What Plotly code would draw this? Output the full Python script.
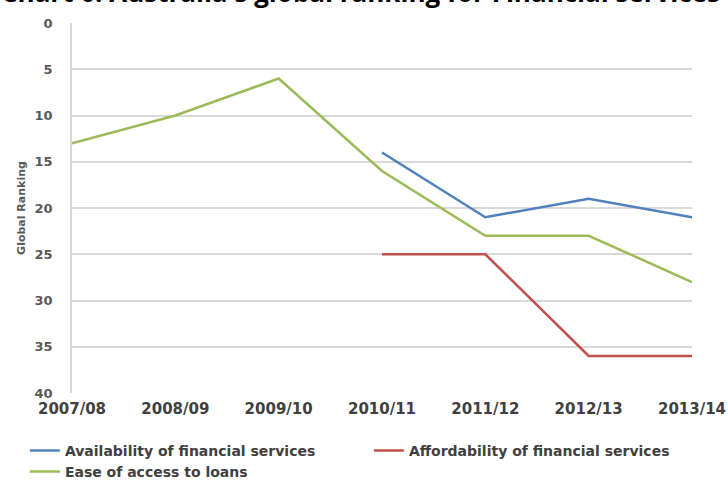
import plotly.graph_objects as go

years = ["2007/08", "2008/09", "2009/10", "2010/11", "2011/12", "2012/13", "2013/14"]
availability = [None, None, None, 14, 21, 19, 21]
affordability = [None, None, None, 25, 25, 36, 36]
ease_loans = [13, 10, 6, 16, 23, 23, 28]
y_ticks = [0, 5, 10, 15, 20, 25, 30, 35, 40]

fig = go.Figure()
fig.add_trace(go.Scatter(x=years, y=availability, mode="lines", name="Availability of financial services",
                         line=dict(color="#4F81BD", width=2.5)))
fig.add_trace(go.Scatter(x=years, y=affordability, mode="lines", name="Affordability of financial services",
                         line=dict(color="#C0504D", width=2.5)))
fig.add_trace(go.Scatter(x=years, y=ease_loans, mode="lines", name="Ease of access to loans",
                         line=dict(color="#9BBB59", width=2.5)))

fig.update_layout(
    width=728, height=480,
    margin=dict(l=72, r=36, t=23, b=87, autoexpand=False),
    paper_bgcolor="white", plot_bgcolor="white",
    font=dict(family="DejaVu Sans", size=12, color="#404040"),
    showlegend=True,
    legend=dict(orientation="h", x=-0.076, xanchor="left", y=-0.113, yanchor="top",
                entrywidth=299, entrywidthmode="pixels", itemwidth=30,
                font=dict(size=14, color="#404040", weight="bold"), tracegroupgap=0,
                bgcolor="rgba(0,0,0,0)"),
    annotations=[dict(text="<b>Chart 6: Australia's global ranking for Financial services</b>",
                      xref="paper", yref="paper", x=0.465, y=1.0, yshift=31, xanchor="center", yanchor="middle",
                      showarrow=False, font=dict(family="Open Sans", size=26, color="black"))],
)
fig.update_xaxes(type="category", range=[0, 6], showgrid=False, showline=False,
                 ticks="", tickfont=dict(size=15, color="#404040", weight="bold"), ticklabelstandoff=5)
fig.update_yaxes(range=[40, 0], tickvals=y_ticks, showgrid=True, gridcolor="#D9D9D9", gridwidth=1.5,
                 showline=True, linecolor="#D9D9D9", linewidth=1.5, zeroline=False, ticks="",
                 tickfont=dict(size=13, color="#595959", weight="bold"), ticklabelstandoff=15,
                 title=dict(text="Global Ranking", font=dict(size=11, color="#595959", weight="bold"), standoff=7))

fig.write_html("out.html", config={"displayModeBar": False},
               post_script="document.body.style.margin='0';")
